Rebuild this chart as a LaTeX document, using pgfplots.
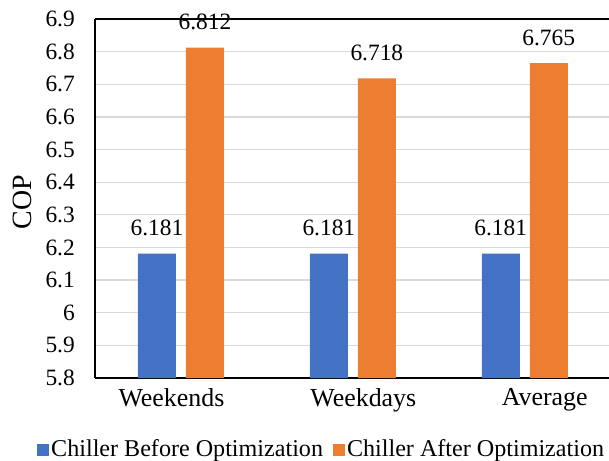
\documentclass[border=0pt]{standalone}
\usepackage{fontspec}
\setmainfont{Liberation Serif}
\usepackage{pgfplots}
\usetikzlibrary{calc}
\pgfplotsset{compat=1.18}
\definecolor{cblue}{HTML}{4472C4}
\definecolor{corange}{HTML}{ED7D31}
\definecolor{cgrid}{HTML}{D9D9D9}
\begin{document}
\fontsize{23.5}{28}\selectfont
\begin{tikzpicture}
\begin{axis}[
  name=ax,
  scale only axis,
  width=514bp, height=359bp,
  xmin=-0.5, xmax=2.49,
  ymin=5.8, ymax=6.9,
  ytick={5.8,5.9,6.0,6.1,6.2,6.3,6.4,6.5,6.6,6.7,6.8,6.9},
  yticklabels={5.8,5.9,6,6.1,6.2,6.3,6.4,6.5,6.6,6.7,6.8,6.9},
  xtick={-0.055,1.061,2.116},
  xticklabels={Weekends,Weekdays,Average},
  major tick length=0pt,
  /pgf/number format/assume math mode=true,
  yticklabel style={inner sep=0pt, xshift=-20bp, font=\fontsize{23.5}{28}\selectfont},
  xticklabel style={inner sep=0pt, yshift=-10bp, font=\fontsize{26}{30}\selectfont},
  axis x line*=bottom,
  axis y line*=left,
  axis line style={line width=1.5bp, black},
  ymajorgrids,
  grid style={cgrid, line width=1.2bp},
  ylabel={COP},
  ylabel style={at={(axis description cs:-0.141,0.49)}, anchor=center, font=\fontsize{28}{32}\selectfont},
  ybar,
  bar width=38bp,
  nodes near coords,
  nodes near coords style={font=\fontsize{23.5}{28}\selectfont, yshift=9.5bp, /pgf/number format/.cd, fixed, fixed zerofill, precision=3, assume math mode=true},
  legend style={draw=none, fill=none, inner sep=0pt, legend columns=-1,
    at={(axis description cs:-0.1128,-0.2)}, anchor=west,
    font=\fontsize{24.2}{28}\selectfont,
    /tikz/every even column/.append style={column sep=8bp}},
  legend image code/.code={\fill[#1] (0bp,-6bp) rectangle (12bp,6bp);},
  clip=false,
]
\addplot[fill=cblue, draw=none, bar shift=-24bp] coordinates {(0,6.181) (1,6.181) (2,6.181)};
\addplot[fill=corange, draw=none, bar shift=24bp] coordinates {(0,6.812) (1,6.718) (2,6.765)};
\legend{Chiller Before Optimization, Chiller After Optimization}
\draw[line width=1.5bp, black] (rel axis cs:0,1) -- (rel axis cs:1,1);
\end{axis}
\pgfresetboundingbox
\path[use as bounding box] ($(ax.south west)+(-95bp,-83bp)$) rectangle ($(ax.north east)+(0bp,19bp)$);
\end{tikzpicture}
\end{document}
